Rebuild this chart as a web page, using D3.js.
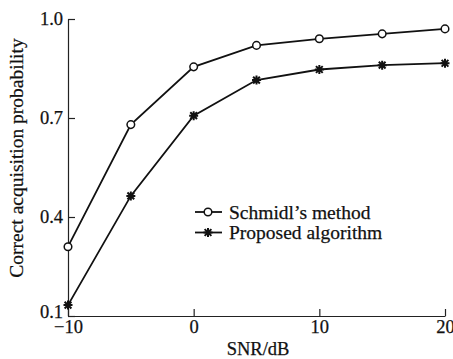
<!DOCTYPE html>
<html>
<head>
	<meta charset="utf-8">
	<title>Correct acquisition probability</title>
	<style type="text/css">

body { margin:0; background:#fff; }

svg text {
	font-family: "Times New Roman", "Liberation Serif", serif;
	fill: #111;
	stroke: #111;
	stroke-width: 0.25px;
}

.axis path, .axis line {
	stroke: #222;
	stroke-width: 1.2px;
	fill: none;
}

.series {
	fill: none;
	stroke: #111;
	stroke-width: 1.8px;
}

	</style>
</head>
<body>

<div id="chart"></div>

<script type="text/javascript" src="https://cdn.jsdelivr.net/npm/d3@7"></script>
<script type="text/javascript">

var snr = [-10, -5, 0, 5, 10, 15, 20];
var schmidl = [0.31, 0.68, 0.855, 0.92, 0.94, 0.955, 0.97];
var proposed = [0.133, 0.464, 0.707, 0.815, 0.847, 0.86, 0.866];
var seriesNames = ["Schmidl\u2019s method", "Proposed algorithm"];
var xTicks = [-10, 0, 10, 20];
var yTicks = [0.1, 0.4, 0.7, 1.0];

var width = 453, height = 359;

var svg = d3.select("#chart").append("svg")
			.attr("width",width)
			.attr("height",height);

var x = d3.scaleLinear().domain([-10,20]).range([68,445]);
var y = d3.scaleLinear().domain([0.1,1.0]).range([316,19]);

// axes, ticks pointing inward
var xAxis = svg.append("g")
	.attr("class","axis")
	.attr("transform","translate(0,316)")
	.call(d3.axisBottom(x).tickValues(xTicks).tickSizeInner(-7).tickSizeOuter(0)
		.tickFormat(function(d){ return d < 0 ? "\u2212" + Math.abs(d) : d; }));

xAxis.selectAll("text")
	.attr("y",4)
	.attr("dy","0.71em")
	.style("font-size","18.5px");

var yAxis = svg.append("g")
	.attr("class","axis")
	.attr("transform","translate(68,0)")
	.call(d3.axisLeft(y).tickValues(yTicks).tickSizeInner(-7).tickSizeOuter(0)
		.tickFormat(d3.format(".1f")));

yAxis.selectAll("text")
	.attr("x",-5)
	.attr("y",function(d){ return d == 0.1 ? -4 : 0; })
	.style("font-size","18.5px");

svg.append("text")
	.attr("x",258)
	.attr("y",355)
	.attr("text-anchor","middle")
	.style("font-size","18.5px")
	.text("SNR/dB");

svg.append("text")
	.attr("transform","translate(23,158) rotate(-90)")
	.attr("text-anchor","middle")
	.style("font-size","19.5px")
	.text("Correct acquisition probability");

var line = d3.line()
	.x(function(d){ return x(d[0]); })
	.y(function(d){ return y(d[1]); });

var data = [d3.zip(snr, schmidl), d3.zip(snr, proposed)];

svg.selectAll(".series")
	.data(data)
	.enter().append("path")
	.attr("class","series")
	.attr("d",line);

function star(g){
	var r = 4.5;
	g.append("path")
		.attr("d","M"+(-r)+",0L"+r+",0M0,"+(-r)+"L0,"+r+
			"M"+(-r*0.75)+","+(-r*0.75)+"L"+(r*0.75)+","+(r*0.75)+
			"M"+(-r*0.75)+","+(r*0.75)+"L"+(r*0.75)+","+(-r*0.75))
		.attr("stroke","#111")
		.attr("stroke-width",2)
		.attr("fill","none");
}

function circ(g){
	g.append("circle")
		.attr("r",3.8)
		.attr("fill","#fff")
		.attr("stroke","#111")
		.attr("stroke-width",1.5);
}

svg.selectAll(".m0")
	.data(data[0])
	.enter().append("g")
	.attr("class","m0")
	.attr("transform",function(d){ return "translate("+x(d[0])+","+y(d[1])+")"; })
	.call(circ);

svg.selectAll(".m1")
	.data(data[1])
	.enter().append("g")
	.attr("class","m1")
	.attr("transform",function(d){ return "translate("+x(d[0])+","+y(d[1])+")"; })
	.call(star);

// legend
var legend = svg.selectAll(".legend")
	.data(seriesNames)
	.enter().append("g")
	.attr("class","legend")
	.attr("transform",function(d,i){ return "translate(195,"+(212+i*20.5)+")"; });

legend.append("line")
	.attr("x1",0).attr("x2",27)
	.attr("stroke","#111")
	.attr("stroke-width",1.8);

legend.each(function(d,i){
	var g = d3.select(this).append("g").attr("transform","translate(13,0)");
	if(i == 0) circ(g); else star(g);
});

legend.append("text")
	.attr("x",34)
	.attr("dy","0.35em")
	.style("font-size","19.5px")
	.text(String);

</script>
</body>
</html>
